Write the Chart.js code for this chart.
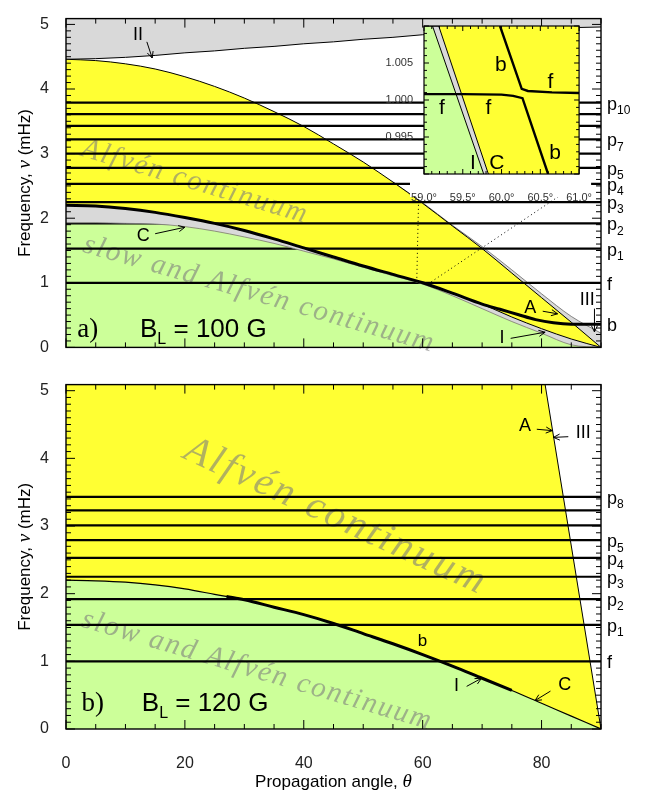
<!DOCTYPE html>
<html>
<head>
<meta charset="utf-8">
<script src="https://cdn.jsdelivr.net/npm/chart.js@4.4.1/dist/chart.umd.min.js"></script>
<style>
  body { margin: 0; background: #fff; }
  #fig { position: relative; width: 649px; height: 796px; }
  #fig canvas { position: absolute; }
</style>
</head>
<body>
<div id="fig">
  <canvas id="panelA" width="649" height="366" style="left:0;top:0"></canvas>
  <canvas id="panelB" width="649" height="430" style="left:0;top:366px"></canvas>
  <canvas id="inset" width="221" height="190" style="left:380px;top:15px"></canvas>
</div>
<script>
// values: angle in degrees, frequency in mHz
const angles = [0, 5, 10, 15, 20, 25, 30, 35, 40, 45, 50, 55, 60, 65, 70, 75, 80, 85, 90];
const freqTicks = [0, 1, 2, 3, 4, 5];
const angleTicks = [0, 20, 40, 60, 80];

// panel a, B_L = 100 G
const aGapEdge   = [4.46, 4.47, 4.49, 4.52, 4.56, 4.59, 4.63, 4.66, 4.70, 4.73, 4.77, 4.80, 4.84, 4.87, 4.90, 4.92, 4.94, 4.95, 4.96];
const aAlfvenTop = [4.46, 4.44, 4.39, 4.31, 4.19, 4.04, 3.86, 3.65, 3.42, 3.15, 2.87, 2.56, 2.23, 1.88, 1.53, 1.15, 0.77, 0.39, 0.00];
const aAlfvenLow = [2.20, 2.19, 2.15, 2.09, 2.01, 1.92, 1.81, 1.68, 1.54, 1.40, 1.26, 1.13, 1.00, 0.84, 0.67, 0.47, 0.29, 0.13, 0.00];
const aSlowTop   = [1.93, 1.93, 1.92, 1.91, 1.87, 1.80, 1.71, 1.61, 1.49, 1.37, 1.24, 1.11, 0.98, 0.80, 0.60, 0.40, 0.22, 0.04, 0.00];
const aIIIAngles = [55, 60, 65, 70, 75, 80, 85, 90];
const aIIIEdge   = [2.56, 2.24, 1.89, 1.56, 1.20, 0.83, 0.48, 0.22];
const aModeAngles = [0, 5, 10, 15, 20, 25, 30, 35, 40, 45, 50, 55, 60, 65, 70, 73, 76, 79, 82, 85, 90];
const aModeB      = [2.20, 2.19, 2.15, 2.09, 2.01, 1.92, 1.81, 1.68, 1.54, 1.40, 1.26, 1.13, 1.00, 0.84, 0.67, 0.59, 0.51, 0.43, 0.38, 0.36, 0.36];
const aModeFreqs  = [1.00, 1.53, 1.92, 2.25, 2.53, 2.78, 3.00, 3.22, 3.43, 3.61, 3.79];
const aLabelNames = ['b', 'f', 'p1', 'p2', 'p3', 'p4', 'p5', 'p7', 'p10'];
const aLabelFreqs = [0.36, 1.00, 1.53, 1.92, 2.25, 2.53, 2.78, 3.22, 3.79];
const aZoomAngles1 = [59.4, 59.0], aZoomFreqs1 = [2.64, 1.00];
const aZoomAngles2 = [87.3, 61.2], aZoomFreqs2 = [2.61, 1.00];

// panel b, B_L = 120 G
const bEdgeAngles = [80.6, 90];
const bEdgeFreqs  = [5.09, 0.00];
const bSlowTop    = [2.20, 2.19, 2.17, 2.13, 2.07, 1.99, 1.91, 1.80, 1.69, 1.56, 1.41, 1.26, 1.10, 0.93, 0.75, 0.57, 0.38, 0.19, 0.00];
const bModeAngles = [27, 30, 35, 40, 45, 50, 55, 60, 65, 70, 75];
const bModeB      = [1.96, 1.91, 1.80, 1.69, 1.56, 1.41, 1.26, 1.10, 0.93, 0.75, 0.57];
const bModeFreqs  = [1.00, 1.54, 1.92, 2.25, 2.53, 2.79, 3.01, 3.23, 3.43];
const bLabelNames = ['f', 'p1', 'p2', 'p3', 'p4', 'p5', 'p8'];
const bLabelFreqs = [1.00, 1.54, 1.92, 2.25, 2.53, 2.79, 3.43];

// inset of panel a (avoided crossing near 60 deg); edges start at the top-left corner
const insetAngleTicks = [59.0, 59.5, 60.0, 60.5, 61.0];
const insetFreqTicks  = [0.995, 1.000, 1.005];
const insetIAngles = [59.0, 59.11, 59.77], insetIFreqs = [1.010, 1.010, 0.990];
const insetCAngles = [59.0, 59.19, 59.83], insetCFreqs = [1.010, 1.010, 0.990];
const insetLowAngles = [59.0, 59.5, 60.0, 60.15, 60.27, 60.6];
const insetLowFreqs  = [1.0008, 1.0008, 1.00072, 1.00056, 1.00025, 0.990];
const insetUpAngles  = [59.98, 60.26, 60.34, 60.65, 61.0];
const insetUpFreqs   = [1.010, 1.0015, 1.00122, 1.00103, 1.00095];

const YELLOW = '#ffff33', GREEN = '#ccff99', GRAY = '#d9d9d9', WORDS = 'rgba(125,125,125,0.6)';
const SANS = '"Liberation Sans", Arial, sans-serif';
const SERIF = '"Liberation Serif", "Times New Roman", serif';
const sans = s => s + 'px ' + SANS;
const serif = (s, it) => (it ? 'italic ' : '') + s + 'px ' + SERIF;
const r = (s, font, dy) => ({s, font, dy: dy || 0});

const pts = (xs, ys) => xs.map((x, i) => ({x, y: ys[i]}));
const hline = v => ({data: [{x: 0, y: v}, {x: 90, y: v}], borderColor: '#000', borderWidth: 2.2});
// first entry is the bottom layer
const layered = sets => sets.map((d, i) => Object.assign({pointRadius: 0, fill: false}, d, {order: sets.length - i}));
const smooth = {cubicInterpolationMode: 'monotone'};

function drawRuns(ctx, runs, x, y, align) {
  ctx.textAlign = 'left';
  let w = 0;
  runs.forEach(p => { ctx.font = p.font; w += ctx.measureText(p.s).width; });
  let cx = align === 'center' ? x - w / 2 : x;
  runs.forEach(p => {
    ctx.font = p.font;
    ctx.fillText(p.s, cx, y + p.dy);
    cx += ctx.measureText(p.s).width;
  });
}

function arrow(ctx, x1, y1, x2, y2) {
  const a = Math.atan2(y2 - y1, x2 - x1), h = 7;
  ctx.beginPath();
  ctx.moveTo(x1, y1); ctx.lineTo(x2, y2);
  ctx.moveTo(x2 - h * Math.cos(a - 0.45), y2 - h * Math.sin(a - 0.45));
  ctx.lineTo(x2, y2);
  ctx.lineTo(x2 - h * Math.cos(a + 0.45), y2 - h * Math.sin(a + 0.45));
  ctx.stroke();
}

const mainTicks = {xStep: 5, xEvery: 4, yStep: 0.1, yEvery: 10, major: 9, minor: 5, box: 1.4};

const spec = {
  panelA: {
    ticks: mainTicks,
    wordsBefore: 4,
    words: [
      {text: 'Alfvén continuum', at: [2.36, 2.97], angle: 16.7, font: serif(29, true), spacing: '2px'},
      {text: 'slow and Alfvén continuum', at: [2.64, 1.485], angle: 16, font: serif(29, true), spacing: '2px'}
    ],
    right: {names: aLabelNames, freqs: aLabelFreqs},
    notes: [
      {runs: [r('II', sans(18))], at: [12.1, 4.83]},
      {runs: [r('C', sans(18))], at: [13.0, 1.73]},
      {runs: [r('A', sans(18))], at: [78.1, 0.61]},
      {runs: [r('III', sans(18))], at: [87.7, 0.73]},
      {runs: [r('I', sans(18))], at: [73.35, 0.14]},
      {runs: [r('a)', serif(27))], at: [1.9, 0.16], align: 'left', base: 'alphabetic'},
      {runs: [r('B', sans(26)), r('L', sans(16), 7), r(' = 100 G', sans(26))], at: [12.45, 0.16], align: 'left', base: 'alphabetic'}
    ],
    arrows: [
      [13.6, 4.73, 14.5, 4.48],
      [15.0, 1.76, 20.0, 1.86],
      [80.2, 0.56, 82.7, 0.52],
      [88.9, 0.60, 88.9, 0.24],
      [74.8, 0.14, 80.6, 0.235]
    ],
    yTitle: true
  },
  panelB: {
    ticks: mainTicks,
    area: YELLOW,
    wordsBefore: 2,
    words: [
      {text: 'Alfvén continuum', at: [19.5, 4.01], angle: 24.7, font: serif(40, true), spacing: '3px'},
      {text: 'slow and Alfvén continuum', at: [2.36, 1.52], angle: 16.5, font: serif(29, true), spacing: '2px'}
    ],
    right: {names: bLabelNames, freqs: bLabelFreqs},
    notes: [
      {runs: [r('A', sans(18))], at: [77.2, 4.48]},
      {runs: [r('III', sans(18))], at: [87.0, 4.38]},
      {runs: [r('b', sans(17))], at: [59.95, 1.29]},
      {runs: [r('I', sans(18))], at: [65.7, 0.63]},
      {runs: [r('C', sans(18))], at: [83.9, 0.65]},
      {runs: [r('b)', serif(27))], at: [2.6, 0.27], align: 'left', base: 'alphabetic'},
      {runs: [r('B', sans(26)), r('L', sans(16), 7), r(' = 120 G', sans(26))], at: [12.75, 0.27], align: 'left', base: 'alphabetic'}
    ],
    arrows: [
      [79.2, 4.43, 81.8, 4.41],
      [84.5, 4.32, 82.0, 4.31],
      [67.4, 0.63, 69.9, 0.75],
      [81.5, 0.56, 78.9, 0.42]
    ],
    yTitle: true,
    xTitle: true
  },
  inset: {
    ticks: {xStep: 0.1, xEvery: 5, yStep: 0.001, yEvery: 5, major: 5, minor: 3, box: 1.2},
    area: YELLOW,
    backing: true,
    notes: [
      {runs: [r('b', sans(21))], at: [59.99, 1.0047]},
      {runs: [r('f', sans(21))], at: [60.63, 1.00246]},
      {runs: [r('f', sans(21))], at: [59.23, 0.99888]},
      {runs: [r('f', sans(21))], at: [59.83, 0.99888]},
      {runs: [r('b', sans(21))], at: [60.69, 0.99283]},
      {runs: [r('I', sans(21))], at: [59.63, 0.99148]},
      {runs: [r('C', sans(21))], at: [59.94, 0.99148]}
    ]
  }
};

const figure = {
  id: 'figure',
  beforeDraw(chart) {
    const o = spec[chart.canvas.id], {ctx, chartArea: a} = chart;
    ctx.save();
    if (o.backing) { ctx.fillStyle = '#fff'; ctx.fillRect(a.left - 14, a.bottom, a.width + 26, 23); }
    if (o.area) { ctx.fillStyle = o.area; ctx.fillRect(a.left, a.top, a.width, a.height); }
    ctx.restore();
  },
  beforeDatasetDraw(chart, args) {
    const o = spec[chart.canvas.id];
    if (!o.words || args.index !== o.wordsBefore) return;
    const {ctx, scales: {x, y}} = chart;
    o.words.forEach(w => {
      ctx.save();
      ctx.fillStyle = WORDS;
      ctx.textBaseline = 'alphabetic';
      ctx.textAlign = 'left';
      ctx.translate(x.getPixelForValue(w.at[0]), y.getPixelForValue(w.at[1]));
      ctx.rotate(w.angle * Math.PI / 180);
      ctx.font = w.font;
      ctx.letterSpacing = w.spacing;
      ctx.fillText(w.text, 0, 0);
      ctx.restore();
    });
  },
  afterDraw(chart) {
    const o = spec[chart.canvas.id], {ctx, chartArea: a, scales: {x, y}} = chart;
    const X = v => x.getPixelForValue(v), Y = v => y.getPixelForValue(v);
    const t = o.ticks;
    ctx.save();
    ctx.strokeStyle = '#000';
    ctx.fillStyle = '#000';
    ctx.lineWidth = 1;

    // ticks point inwards on all four sides
    ctx.beginPath();
    for (let i = 0; i <= Math.round((x.max - x.min) / t.xStep); i++) {
      const px = X(x.min + i * t.xStep), len = i % t.xEvery ? t.minor : t.major;
      ctx.moveTo(px, a.bottom); ctx.lineTo(px, a.bottom - len);
      ctx.moveTo(px, a.top); ctx.lineTo(px, a.top + len);
    }
    for (let i = 0; i <= Math.floor((y.max - y.min) / t.yStep + 1e-6); i++) {
      const py = Y(y.min + i * t.yStep), len = i % t.yEvery ? t.minor : t.major;
      ctx.moveTo(a.left, py); ctx.lineTo(a.left + len, py);
      ctx.moveTo(a.right, py); ctx.lineTo(a.right - len, py);
    }
    ctx.stroke();
    ctx.lineWidth = t.box;
    ctx.strokeRect(a.left, a.top, a.width, a.height);

    // mode names on the right edge
    if (o.right) {
      ctx.textBaseline = 'middle';
      o.right.names.forEach((nm, i) => {
        drawRuns(ctx, [r(nm[0], sans(18)), r(nm.slice(1), sans(12), 6)], a.right + 6, Y(o.right.freqs[i]) + 2, 'left');
      });
    }

    (o.notes || []).forEach(n => {
      ctx.textBaseline = n.base || 'middle';
      drawRuns(ctx, n.runs, X(n.at[0]), Y(n.at[1]), n.align || 'center');
    });
    ctx.lineWidth = 1;
    (o.arrows || []).forEach(p => arrow(ctx, X(p[0]), Y(p[1]), X(p[2]), Y(p[3])));

    ctx.textBaseline = 'middle';
    if (o.yTitle) {
      ctx.save();
      ctx.translate(25, (a.top + a.bottom) / 2);
      ctx.rotate(-Math.PI / 2);
      drawRuns(ctx, [r('Frequency, ', sans(17)), r('ν', serif(19, true)), r(' (mHz)', sans(17))], 0, 0, 'center');
      ctx.restore();
    }
    if (o.xTitle) {
      drawRuns(ctx, [r('Propagation angle, ', sans(17)), r('θ', serif(19, true))], (a.left + a.right) / 2, 416, 'center');
    }
    ctx.restore();
  }
};

const freqAxis = {
  type: 'linear', min: 0, max: 5.09,
  grid: {display: false}, border: {display: false},
  afterBuildTicks: s => { s.ticks = freqTicks.map(v => ({value: v})); },
  afterFit: s => { s.width = 66; },
  ticks: {font: {family: SANS, size: 16}, color: '#222', padding: 9}
};

const quiet = {legend: {display: false}, tooltip: {enabled: false}};

// panel a
const aSets = layered([
  {data: pts(angles, aGapEdge), fill: 'end', backgroundColor: GRAY, borderColor: '#000', borderWidth: 1, ...smooth},
  {data: pts(aIIIAngles, aIIIEdge), fill: 'start', backgroundColor: GRAY, borderColor: '#666', borderWidth: 0.8, ...smooth},
  {data: pts(angles, aAlfvenTop), fill: 'start', backgroundColor: YELLOW, borderColor: '#000', borderWidth: 1, ...smooth},
  {data: pts(angles, aSlowTop), fill: 'start', backgroundColor: GREEN, borderWidth: 0, ...smooth},
  ...aModeFreqs.map(hline),
  {data: pts(angles, aAlfvenLow), fill: {target: 3}, backgroundColor: GRAY, borderColor: '#000', borderWidth: 1, ...smooth},
  {data: pts(angles, aSlowTop), borderColor: '#777', borderWidth: 0.8, ...smooth},
  {data: pts(aZoomAngles1, aZoomFreqs1), borderColor: '#000', borderWidth: 1, borderDash: [1, 3]},
  {data: pts(aZoomAngles2, aZoomFreqs2), borderColor: '#000', borderWidth: 1, borderDash: [1, 3]},
  {data: pts(aModeAngles, aModeB), borderColor: '#000', borderWidth: 3, ...smooth}
]);

new Chart(document.getElementById('panelA'), {
  type: 'line',
  data: {datasets: aSets},
  plugins: [figure],
  options: {
    responsive: false, animation: false,
    layout: {padding: {left: 0, right: 48, top: 5, bottom: 8}},
    scales: {
      x: {type: 'linear', min: 0, max: 90, display: false},
      y: freqAxis
    },
    plugins: quiet
  }
});

// panel b
const bSets = layered([
  {data: pts(bEdgeAngles, bEdgeFreqs), fill: 'end', backgroundColor: '#fff', borderColor: '#000', borderWidth: 1},
  {data: pts(angles, bSlowTop), fill: 'start', backgroundColor: GREEN, borderColor: '#000', borderWidth: 1.2, ...smooth},
  ...bModeFreqs.map(hline),
  {data: pts(bModeAngles, bModeB), borderColor: '#000', borderWidth: 3, ...smooth}
]);

new Chart(document.getElementById('panelB'), {
  type: 'line',
  data: {datasets: bSets},
  plugins: [figure],
  options: {
    responsive: false, animation: false,
    layout: {padding: {left: 0, right: 48, top: 9, bottom: 0}},
    scales: {
      x: {
        type: 'linear', min: 0, max: 90,
        grid: {display: false}, border: {display: false},
        afterBuildTicks: s => { s.ticks = angleTicks.map(v => ({value: v})); },
        afterFit: s => { s.height = 67; },
        ticks: {font: {family: SANS, size: 16}, color: '#222', padding: 17, maxRotation: 0}
      },
      y: freqAxis
    },
    plugins: quiet
  }
});

// inset
const insetSets = layered([
  {data: pts(insetCAngles, insetCFreqs), fill: 'start', backgroundColor: GRAY, borderColor: '#000', borderWidth: 1},
  {data: pts(insetIAngles, insetIFreqs), fill: 'start', backgroundColor: GREEN, borderColor: '#000', borderWidth: 1},
  {data: pts(insetLowAngles, insetLowFreqs), borderColor: '#000', borderWidth: 2.4},
  {data: pts(insetUpAngles, insetUpFreqs), borderColor: '#000', borderWidth: 2.4}
]);

new Chart(document.getElementById('inset'), {
  type: 'line',
  data: {datasets: insetSets},
  plugins: [figure],
  options: {
    responsive: false, animation: false,
    layout: {padding: {left: 0, right: 16, top: 11, bottom: 0}},
    scales: {
      x: {
        type: 'linear', min: 59, max: 61,
        grid: {display: false}, border: {display: false},
        afterBuildTicks: s => { s.ticks = insetAngleTicks.map(v => ({value: v})); },
        afterFit: s => { s.height = 31; },
        ticks: {font: {family: SANS, size: 11}, color: '#333', padding: 9, maxRotation: 0,
                callback: v => v.toFixed(1) + '°'}
      },
      y: {
        type: 'linear', min: 0.990, max: 1.010,
        grid: {display: false}, border: {display: false},
        afterBuildTicks: s => { s.ticks = insetFreqTicks.map(v => ({value: v})); },
        afterFit: s => { s.width = 44; },
        ticks: {font: {family: SANS, size: 11}, color: '#333', padding: 3,
                callback: v => v.toFixed(3)}
      }
    },
    plugins: quiet
  }
});
</script>
</body>
</html>
